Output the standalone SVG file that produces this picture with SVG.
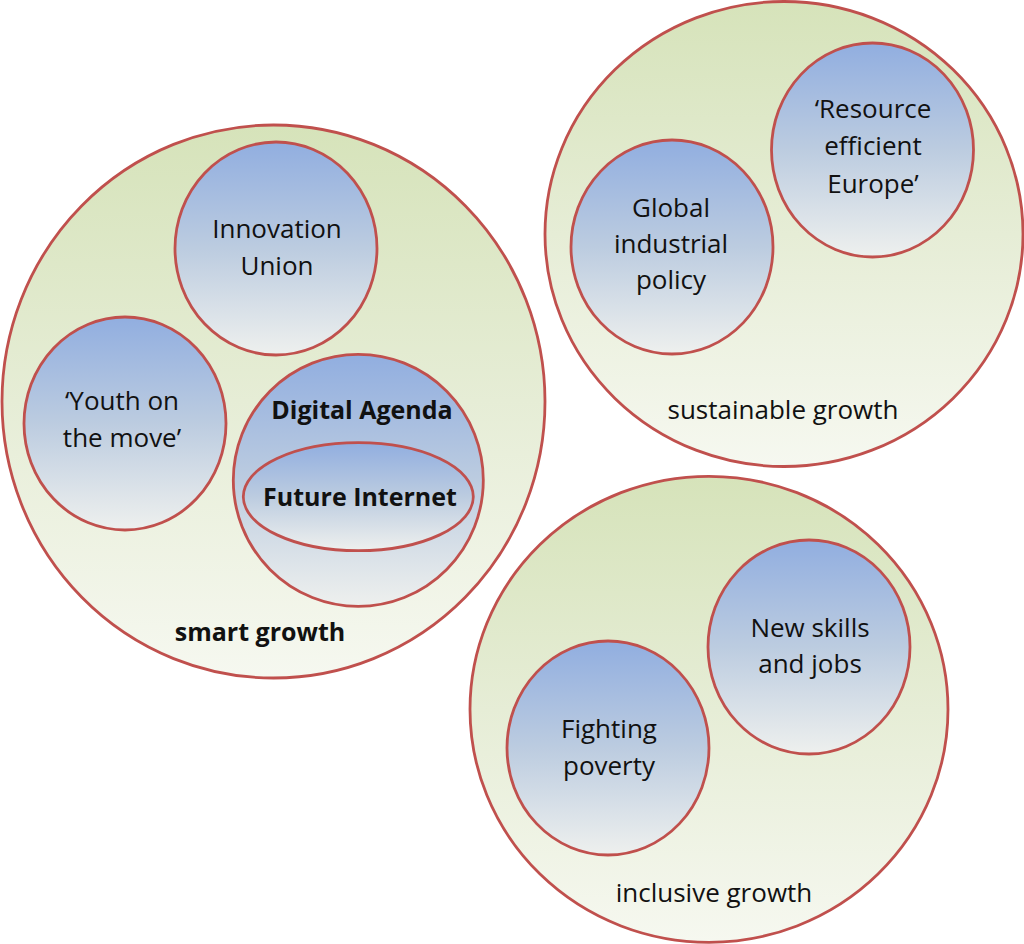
<svg xmlns="http://www.w3.org/2000/svg" width="1024" height="944" viewBox="0 0 1024 944">
<defs>
<linearGradient id="gOuter" x1="0" y1="0" x2="0" y2="1">
<stop offset="0" stop-color="#D6E3BA"/>
<stop offset="0.5" stop-color="#E6EDD6"/>
<stop offset="1" stop-color="#F6F8F0"/>
</linearGradient>
<linearGradient id="gInner" x1="0" y1="0" x2="0" y2="1">
<stop offset="0" stop-color="#91AEE0"/>
<stop offset="0.5" stop-color="#BCCCE0"/>
<stop offset="1" stop-color="#EEF0EE"/>
</linearGradient>
<style>
.outer{fill:url(#gOuter);stroke:#C0504D;stroke-width:2.8}
.inner{fill:url(#gInner);stroke:#C0504D;stroke-width:2.8}
text{font-family:"Open Sans","Liberation Sans",sans-serif;font-size:26px;fill:#111;text-anchor:middle}
.b{font-weight:bold;font-size:25px}
</style>
</defs>
<g id="smart-growth">
<ellipse class="outer" cx="273.5" cy="401.5" rx="271.5" ry="276.5"/>
<text class="b" x="260" y="641">smart growth</text>
</g>
<g id="innovation-union">
<ellipse class="inner" cx="276" cy="248.5" rx="101" ry="106.5"/>
<text x="277" y="238">Innovation</text>
<text x="277" y="275">Union</text>
</g>
<g id="youth-on-the-move">
<ellipse class="inner" cx="125" cy="423.5" rx="101" ry="106.5"/>
<text x="122" y="410">‘Youth on</text>
<text x="122" y="447">the move’</text>
</g>
<g id="digital-agenda">
<ellipse class="inner" cx="358.3" cy="480.3" rx="125" ry="126"/>
<text class="b" x="362" y="419">Digital Agenda</text>
</g>
<g id="future-internet">
<ellipse class="inner" cx="358.3" cy="496.7" rx="115" ry="54"/>
<text class="b" x="360" y="506">Future Internet</text>
</g>
<g id="sustainable-growth">
<ellipse class="outer" cx="784" cy="234" rx="239" ry="232.5"/>
<text x="783" y="419">sustainable growth</text>
</g>
<g id="global-industrial-policy">
<ellipse class="inner" cx="672" cy="247" rx="101" ry="107"/>
<text x="671" y="217">Global</text>
<text x="671" y="253">industrial</text>
<text x="671" y="289">policy</text>
</g>
<g id="resource-efficient-europe">
<ellipse class="inner" cx="872.5" cy="150" rx="101" ry="107"/>
<text x="873" y="118">‘Resource</text>
<text x="873" y="155">efficient</text>
<text x="873" y="193">Europe’</text>
</g>
<g id="inclusive-growth">
<ellipse class="outer" cx="709" cy="709.3" rx="239" ry="233"/>
<text x="714" y="902">inclusive growth</text>
</g>
<g id="new-skills-and-jobs">
<ellipse class="inner" cx="809" cy="647" rx="101" ry="107"/>
<text x="810" y="637">New skills</text>
<text x="810" y="673">and jobs</text>
</g>
<g id="fighting-poverty">
<ellipse class="inner" cx="608" cy="748" rx="101" ry="107"/>
<text x="609" y="738">Fighting</text>
<text x="609" y="775">poverty</text>
</g>
<g id="connectors"></g>
</svg>
